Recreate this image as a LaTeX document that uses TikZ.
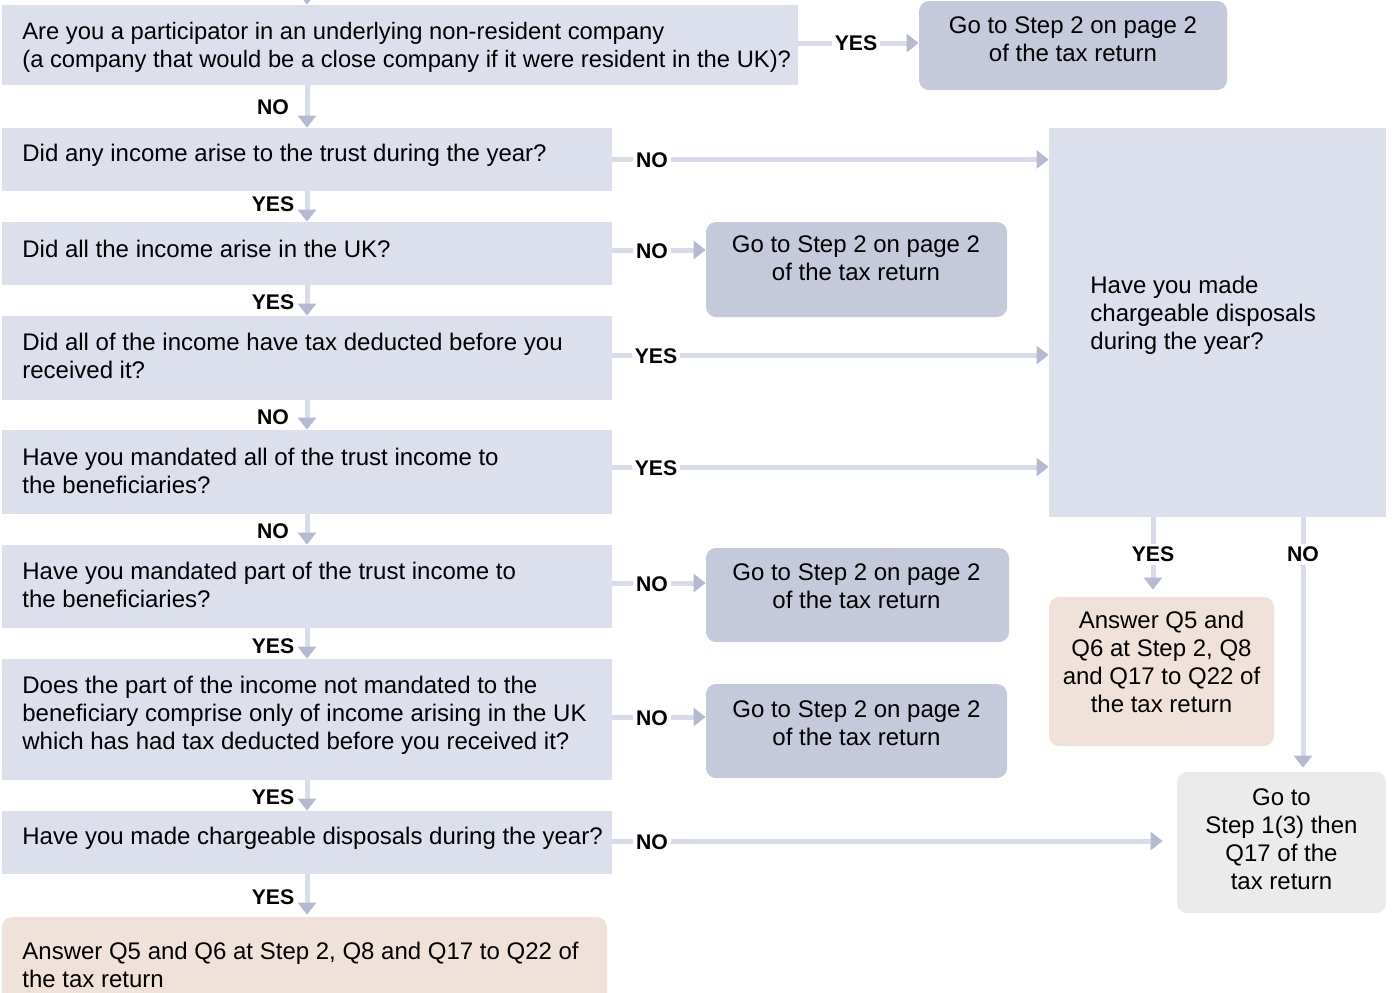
\documentclass[tikz,border=0pt]{standalone}
\usepackage{fontspec}
\setmainfont{Liberation Sans}
\usetikzlibrary{arrows.meta,fit}
\definecolor{qfill}{RGB}{220,223,236}
\definecolor{rfill}{RGB}{196,201,219}
\definecolor{linec}{RGB}{216,219,233}
\definecolor{tipc}{RGB}{181,186,210}
\definecolor{peach}{RGB}{240,226,216}
\definecolor{grayc}{RGB}{235,235,235}
\begin{document}
\begin{tikzpicture}[x=0.5pt,y=-0.5pt,
 qbox/.style={fill=qfill, inner sep=0pt},
 rbox/.style={fill=rfill, rounded corners=5pt, inner sep=0pt},
 abox/.style={fill=peach, rounded corners=5pt, inner sep=0pt},
 gbox/.style={fill=grayc, rounded corners=5pt, inner sep=0pt},
 txt/.style={font=\fontsize{12}{14}\selectfont, inner sep=0pt, align=left},
 ctxt/.style={txt, align=center},
 lbl/.style={font=\fontsize{10.6}{12}\selectfont\bfseries, fill=white, inner sep=1.5pt},
 arr/.style={draw=linec, line width=2.5pt, -{Triangle[length=6pt,width=9pt,color=tipc]}},
]
\useasboundingbox (0,0) rectangle (1394,992);
% boxes
\node[qbox, fit={(2,5)(798,85)}] (q1) {};
\node[rbox, fit={(919,1)(1227,90)}] (r1) {};
\node[qbox, fit={(2,128)(612,191)}] (q2) {};
\node[qbox, fit={(1049,128)(1386,517)}] (big) {};
\node[qbox, fit={(2,222)(612,285)}] (q3) {};
\node[rbox, fit={(706,222)(1007,317)}] (r2) {};
\node[qbox, fit={(2,316)(612,400)}] (q4) {};
\node[qbox, fit={(2,430)(612,514)}] (q5) {};
\node[qbox, fit={(2,545)(612,628)}] (q6) {};
\node[rbox, fit={(706,548)(1009,642)}] (r3) {};
\node[qbox, fit={(2,659)(612,780)}] (q7) {};
\node[rbox, fit={(706,684)(1007,778)}] (r4) {};
\node[qbox, fit={(2,811)(612,874)}] (q8) {};
\node[abox, fit={(2,917)(607,1012)}] (a1) {};
\node[abox, fit={(1049,597)(1274,746)}] (a2) {};
\node[gbox, fit={(1177,772)(1386,913)}] (g1) {};
% texts
\node[txt, anchor=west, font=\fontsize{11.88}{14}\selectfont] (q1t) at (22,47) {Are you a participator in an underlying non-resident company\\(a company that would be a close company if it were resident in the UK)?};
\node[txt, anchor=west] (q2t) at (22,155.5) {Did any income arise to the trust during the year?};
\node[txt, anchor=west] (q3t) at (22,249) {Did all the income arise in the UK?};
\node[txt, anchor=west] (q4t) at (22,356) {Did all of the income have tax deducted before you\\received it?};
\node[txt, anchor=west] (q5t) at (22,471) {Have you mandated all of the trust income to\\the beneficiaries?};
\node[txt, anchor=west] (q6t) at (22,585) {Have you mandated part of the trust income to\\the beneficiaries?};
\node[txt, anchor=west] (q7t) at (22,715) {Does the part of the income not mandated to the\\beneficiary comprise only of income arising in the UK\\which has had tax deducted before you received it?};
\node[txt, anchor=west] (q8t) at (22,838) {Have you made chargeable disposals during the year?};
\node[txt, anchor=west] (a1t) at (22,965) {Answer Q5 and Q6 at Step 2, Q8 and Q17 to Q22 of\\the tax return};
\node[txt, anchor=west] (bigt) at (1090,315) {Have you made\\chargeable disposals\\during the year?};
\node[ctxt] (r1t) at (1073,39) {Go to Step 2 on page 2\\of the tax return};
\node[ctxt] (r2t) at (856,258) {Go to Step 2 on page 2\\of the tax return};
\node[ctxt] (r3t) at (856.5,586) {Go to Step 2 on page 2\\of the tax return};
\node[ctxt] (r4t) at (856.5,723) {Go to Step 2 on page 2\\of the tax return};
\node[ctxt] (a2t) at (1161.5,662) {Answer Q5 and\\Q6 at Step 2, Q8\\and Q17 to Q22 of\\the tax return};
\node[ctxt] (g1t) at (1281.5,839) {Go to\\Step 1(3) then\\Q17 of the\\tax return};
% connectors
\coordinate (tin) at (307,-20);
\coordinate (vx) at (307,0);
\coordinate (yx) at (1153,0);
\coordinate (nx) at (1303,0);
\draw[arr] (tin) -- (tin |- q1.north);
\draw[arr] ([yshift=1pt]q1.east) -- ([yshift=1pt]q1.east -| r1.west);
\draw[arr] (q1.south -| vx) -- (q2.north -| vx);
\draw[arr] (q2.east) -- (q2.east -| big.west);
\draw[arr] (q2.south -| vx) -- (q3.north -| vx);
\draw[arr] ([yshift=1.75pt]q3.east) -- ([yshift=1.75pt]q3.east -| r2.west);
\draw[arr] (q3.south -| vx) -- (q4.north -| vx);
\draw[arr] ([yshift=1.5pt]q4.east) -- ([yshift=1.5pt]q4.east -| big.west);
\draw[arr] (q4.south -| vx) -- (q5.north -| vx);
\draw[arr] ([yshift=2.5pt]q5.east) -- ([yshift=2.5pt]q5.east -| big.west);
\draw[arr] (q5.south -| vx) -- (q6.north -| vx);
\draw[arr] ([yshift=1.75pt]q6.east) -- ([yshift=1.75pt]q6.east -| r3.west);
\draw[arr] (q6.south -| vx) -- (q7.north -| vx);
\draw[arr] ([yshift=1.25pt]q7.east) -- ([yshift=1.25pt]q7.east -| r4.west);
\draw[arr] (q7.south -| vx) -- (q8.north -| vx);
\draw[arr, shorten >=7pt] ([yshift=0.75pt]q8.east) -- ([yshift=0.75pt]q8.east -| g1.west);
\draw[arr, shorten >=1pt] (q8.south -| vx) -- (a1.north -| vx);
\draw[arr, shorten >=3.5pt] (big.south -| yx) -- (a2.north -| yx);
\draw[arr, shorten >=2pt] (big.south -| nx) -- (g1.north -| nx);
% labels
\node[lbl] (l1) at (856,43) {YES};
\node[lbl] (l2) at (273,107) {NO};
\node[lbl] (l3) at (652,160) {NO};
\node[lbl] (l4) at (273,204) {YES};
\node[lbl] (l5) at (652,251) {NO};
\node[lbl] (l6) at (273,302) {YES};
\node[lbl] (l7) at (656,356) {YES};
\node[lbl] (l8) at (273,417) {NO};
\node[lbl] (l9) at (656,468) {YES};
\node[lbl] (l10) at (273,531) {NO};
\node[lbl] (l11) at (652,584) {NO};
\node[lbl] (l12) at (273,646) {YES};
\node[lbl] (l13) at (652,718) {NO};
\node[lbl] (l14) at (273,797) {YES};
\node[lbl] (l15) at (652,842) {NO};
\node[lbl] (l16) at (273,897) {YES};
\node[lbl] (l17) at (1153,554) {YES};
\node[lbl] (l18) at (1303,554) {NO};
\end{tikzpicture}
\end{document}
